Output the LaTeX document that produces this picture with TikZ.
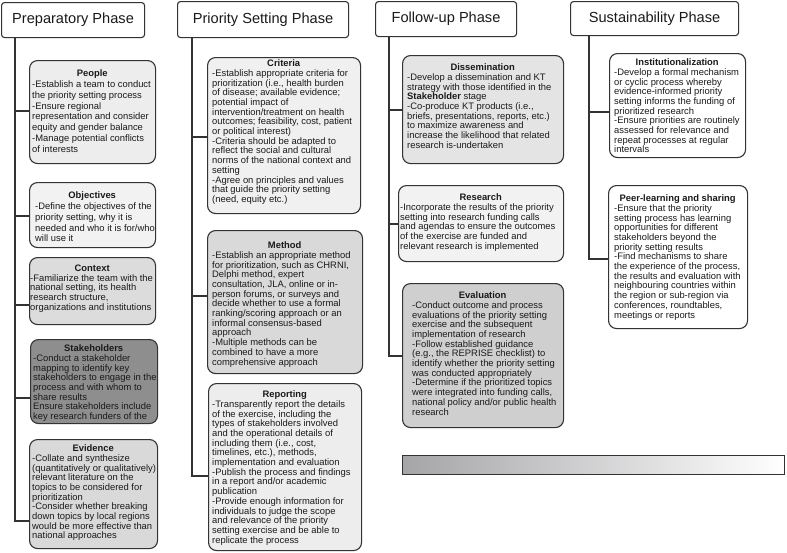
\documentclass[tikz,border=0pt]{standalone}
\usepackage{fontspec}
\setmainfont{Liberation Sans}
\definecolor{ln}{HTML}{333333}
\definecolor{tx}{HTML}{1A1A1A}
\tikzset{
  hdr/.style={draw=ln, line width=1.1pt, rounded corners=3pt, fill=white, text=tx, inner sep=0pt, anchor=north west, font=\fontsize{14.6}{17}\selectfont},
  cbox/.style={draw=ln, line width=1.1pt, rounded corners=8pt, inner sep=0pt, anchor=north west},
  txt/.style={align=left, inner sep=0pt, text=tx, anchor=north west, font=\fontsize{9.4}{9.7}\selectfont},
  txtw/.style={txt, font=\fontsize{9.4}{10.8}\selectfont},
  conn/.style={draw=ln, line width=1.4pt}
}
\begin{document}
\begin{tikzpicture}[x=1pt,y=-1pt]
\useasboundingbox (0,0) rectangle (787,552);
% headers
\node[hdr, minimum width=143, minimum height=35] (prep) at (1,2) {Preparatory Phase};
\node[hdr, minimum width=171, minimum height=36] (prio) at (177,1) {Priority Setting Phase};
\node[hdr, minimum width=141, minimum height=35] (foll) at (375,1) {Follow-up Phase};
\node[hdr, minimum width=168, minimum height=34] (sust) at (570,1) {Sustainability Phase};
% spine coordinates
\coordinate (s1) at (15,37);
\coordinate (s2) at (192,37);
\coordinate (s3) at (389,36);
\coordinate (s4) at (589,35);
% connectors (drawn first)
\draw[conn] (s1) -- (s1 |- 0,521) -- (29,521);
\draw[conn] (s1 |- 0,111) -- (29,111);
\draw[conn] (s1 |- 0,216) -- (29,216);
\draw[conn] (s1 |- 0,305) -- (29,305);
\draw[conn] (s1 |- 0,398) -- (30,398);
\draw[conn] (s2) -- (s2 |- 0,476) -- (208,476);
\draw[conn] (s2 |- 0,137) -- (207,137);
\draw[conn] (s2 |- 0,296) -- (207,296);
\draw[conn] (s3) -- (s3 |- 0,356) -- (402,356);
\draw[conn] (s3 |- 0,110) -- (402,110);
\draw[conn] (s3 |- 0,224) -- (398,224);
\draw[conn] (s4) -- (s4 |- 0,259) -- (608,259);
\draw[conn] (s4 |- 0,112) -- (609,112);
% Preparatory boxes
\node[cbox, fill={rgb,255:red,237;green,237;blue,237}, minimum width=126, minimum height=103] (people) at (29,60) {};
\node[txtw] (peopleT) at (32,69.6) {\makebox[120pt]{\textbf{People}}\\
-Establish a team to conduct\\
the priority setting process\\
-Ensure regional\\
representation and consider\\
equity and gender balance\\
-Manage potential conflicts\\
of interests};
\node[cbox, fill={rgb,255:red,242;green,242;blue,242}, minimum width=126, minimum height=65] (obj) at (29,182) {};
\node[txtw] (objT) at (35,191.6) {\makebox[114pt]{\textbf{Objectives}}\\
-Define the objectives of the\\
priority setting, why it is\\
needed and who it is for/who\\
will use it};
\node[cbox, fill={rgb,255:red,220;green,220;blue,220}, minimum width=126, minimum height=67] (ctx) at (29,257) {};
\node[txt] (ctxT) at (30,264.6) {\makebox[124pt]{\textbf{Context}}\\
-Familiarize the team with the\\
national setting, its health\\
research structure,\\
organizations and institutions};
\node[cbox, fill={rgb,255:red,142;green,142;blue,142}, minimum width=127, minimum height=84] (stake) at (30,339) {};
\node[txt] (stakeT) at (33,344.6) {\makebox[121pt]{\textbf{Stakeholders}}\\
-Conduct a stakeholder\\
mapping to identify key\\
stakeholders to engage in the\\
process and with whom to\\
share results\\
Ensure stakeholders include\\
key research funders of the};
\node[cbox, fill={rgb,255:red,217;green,217;blue,217}, minimum width=128, minimum height=109] (evid) at (29,439) {};
\node[txt] (evidT) at (32,444.6) {\makebox[122pt]{\textbf{Evidence}}\\
-Collate and synthesize\\
(quantitatively or qualitatively)\\
relevant literature on the\\
topics to be considered for\\
prioritization\\
-Consider whether breaking\\
down topics by local regions\\
would be more effective than\\
national approaches};
% Priority setting boxes
\node[cbox, fill={rgb,255:red,240;green,240;blue,240}, minimum width=153, minimum height=156] (crit) at (207,57) {};
\node[txt] (critT) at (212,59.6) {\makebox[143pt]{\textbf{Criteria}}\\
-Establish appropriate criteria for\\
prioritization (i.e., health burden\\
of disease; available evidence;\\
potential impact of\\
intervention/treatment on health\\
outcomes; feasibility, cost, patient\\
or political interest)\\
-Criteria should be adapted to\\
reflect the social and cultural\\
norms of the national context and\\
setting\\
-Agree on principles and values\\
that guide the priority setting\\
(need, equity etc.)};
\node[cbox, fill={rgb,255:red,217;green,217;blue,217}, minimum width=155, minimum height=143] (meth) at (207,230) {};
\node[txt] (methT) at (212,241.6) {\makebox[145pt]{\textbf{Method}}\\
-Establish an appropriate method\\
for prioritization, such as CHRNI,\\
Delphi method, expert\\
consultation, JLA, online or in-\\
person forums, or surveys and\\
decide whether to use a formal\\
ranking/scoring approach or an\\
informal consensus-based\\
approach\\
-Multiple methods can be\\
combined to have a more\\
comprehensive approach};
\node[cbox, fill={rgb,255:red,237;green,237;blue,237}, minimum width=153, minimum height=167] (repo) at (208,383) {};
\node[txt] (repoT) at (212,390.6) {\makebox[145pt]{\textbf{Reporting}}\\
-Transparently report the details\\
of the exercise, including the\\
types of stakeholders involved\\
and the operational details of\\
including them (i.e., cost,\\
timelines, etc.), methods,\\
implementation and evaluation\\
-Publish the process and findings\\
in a report and/or academic\\
publication\\
-Provide enough information for\\
individuals to judge the scope\\
and relevance of the priority\\
setting exercise and be able to\\
replicate the process};
% Follow-up boxes
\node[cbox, fill={rgb,255:red,228;green,228;blue,228}, minimum width=161, minimum height=108] (diss) at (402,55) {};
\node[txt] (dissT) at (407,63.6) {\makebox[151pt]{\textbf{Dissemination}}\\
-Develop a dissemination and KT\\
strategy with those identified in the\\
\textbf{Stakeholder} stage\\
-Co-produce KT products (i.e.,\\
briefs, presentations, reports, etc.)\\
to maximize awareness and\\
increase the likelihood that related\\
research is-undertaken};
\node[cbox, fill={rgb,255:red,242;green,242;blue,242}, minimum width=165, minimum height=76] (rese) at (398,185) {};
\node[txt] (reseT) at (400,193.6) {\makebox[161pt]{\textbf{Research}}\\
-Incorporate the results of the priority\\
setting into research funding calls\\
and agendas to ensure the outcomes\\
of the exercise are funded and\\
relevant research is implemented};
\node[cbox, fill={rgb,255:red,207;green,207;blue,207}, minimum width=161, minimum height=144] (eval) at (402,283) {};
\node[txt] (evalT) at (412,291.6) {\makebox[141pt]{\textbf{Evaluation}}\\
-Conduct outcome and process\\
evaluations of the priority setting\\
exercise and the subsequent\\
implementation of research\\
-Follow established guidance\\
(e.g., the REPRISE checklist) to\\
identify whether the priority setting\\
was conducted appropriately\\
-Determine if the prioritized topics\\
were integrated into funding calls,\\
national policy and/or public health\\
research};
% Sustainability boxes
\node[cbox, fill=white, minimum width=136, minimum height=104] (inst) at (609,53) {};
\node[txt] (instT) at (614,58.6) {\makebox[126pt]{\textbf{Institutionalization}}\\
-Develop a formal mechanism\\
or cyclic process whereby\\
evidence-informed priority\\
setting informs the funding of\\
prioritized research\\
-Ensure priorities are routinely\\
assessed for relevance and\\
repeat processes at regular\\
intervals};
\node[cbox, fill=white, minimum width=139, minimum height=143] (peer) at (608,185) {};
\node[txt] (peerT) at (614,194.6) {\makebox[127pt]{\textbf{Peer-learning and sharing}}\\
-Ensure that the priority\\
setting process has learning\\
opportunities for different\\
stakeholders beyond the\\
priority setting results\\
-Find mechanisms to share\\
the experience of the process,\\
the results and evaluation with\\
neighbouring countries within\\
the region or sub-region via\\
conferences, roundtables,\\
meetings or reports};
% gradient bar
\node[draw=ln, line width=1pt, anchor=north west, inner sep=0pt, minimum width=382, minimum height=19, left color={rgb,255:red,165;green,165;blue,168}, right color=white] (bar) at (402,455) {};
\end{tikzpicture}
\end{document}
